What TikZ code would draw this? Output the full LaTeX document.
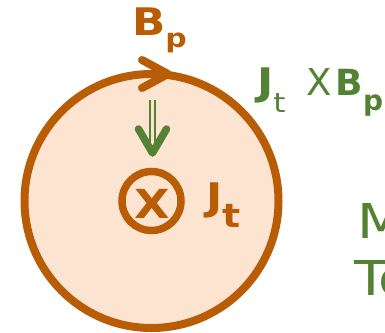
\documentclass[tikz,border=0pt]{standalone}
\usepackage{fontspec}
\setmainfont{DejaVu Sans}[FakeStretch=1.15]
\newfontfamily\plainsans{DejaVu Sans}
\usepackage{tikz}
\usetikzlibrary{positioning}

\definecolor{bpcol}{RGB}{184,93,5}
\definecolor{plasmafill}{RGB}{252,228,208}
\definecolor{forcecol}{RGB}{84,130,53}

% lowered, smaller index text: drop, size, text
\newcommand{\idxtxt}[3]{\raisebox{-#1pt}{\fontsize{#2}{#2}\selectfont #3}}

\begin{document}
\begin{tikzpicture}[
  x=1pt, y=-1pt,
  lbl/.style={inner sep=0pt, outer sep=0pt, anchor=base west, font=\fontsize{38}{38}\selectfont},
  ring/.style={circle, draw=bpcol, inner sep=0pt},
  chevron/.style={line cap=round, line join=round}
]
\path[use as bounding box, clip] (0,0) rectangle (385,332);

% plasma cross-section
\node[ring, fill=plasmafill, line width=8pt, minimum size=254pt] (plasma) at (151.5,201) {};
\node[ring, line width=7.5pt, minimum size=59pt] (jring) at (151.5,201) {};
\node[inner sep=0pt, text=bpcol, font=\fontsize{40}{40}\selectfont\bfseries] (jx) at (152,204) {X};

% poloidal field direction
\coordinate (bptip) at (168,74);
\draw[bpcol, chevron, line width=8pt] (142,60) -- (bptip) -- (142,88);

% force arrow
\coordinate (ftail) at (152.5,100);
\coordinate (fhead) at (152.5,153);
\draw[forcecol, double=plasmafill, double distance=3pt, line width=2pt] (ftail) -- ([yshift=6pt]fhead);
\draw[forcecol, chevron, line width=7.5pt] ([shift={(-14,-24)}]fhead) -- (fhead) -- ([shift={(14,-24)}]fhead);

% labels
\node[lbl, text=bpcol] (bplabel) at (132,35) {\bfseries B\idxtxt{12}{26}{p}};
\node[lbl, text=bpcol] (jtlabel) at (206,210) {\bfseries J\idxtxt{17}{33}{t}};
\node[lbl, text=forcecol] (force) at (257,95)
  {\bfseries J\idxtxt{17}{27}{\mdseries t}\hspace{21pt}\plainsans\mdseries\fontsize{37}{37}\selectfont X\hspace{4pt}\bfseries\fontsize{36}{36}\selectfont B\idxtxt{15}{28}{p}};
\node[lbl, text=forcecol, font=\fontsize{48}{48}\selectfont] (mword) at (357,238) {M};
\node[lbl, text=forcecol, font=\fontsize{48}{48}\selectfont] (toword) at (354,295) {To};
\end{tikzpicture}
\end{document}
